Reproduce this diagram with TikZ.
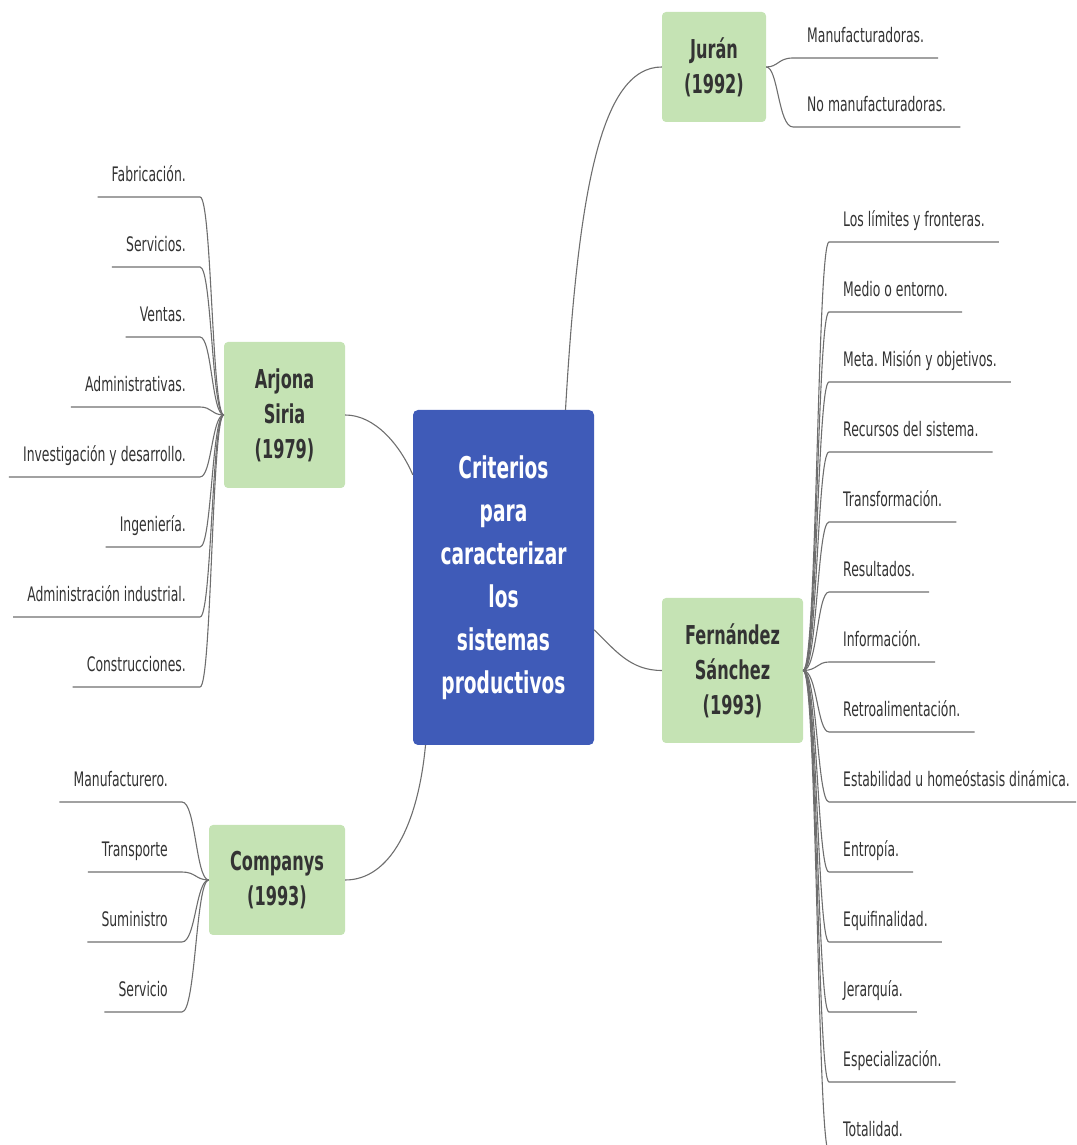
\documentclass[tikz,border=0pt]{standalone}
\usepackage{fontspec}
\setmainfont{DejaVu Sans}[FakeStretch=0.62]
\usetikzlibrary{calc}
\definecolor{azul}{HTML}{3F5BB8}
\definecolor{verde}{HTML}{C5E3B4}
\definecolor{linea}{HTML}{6E6E6E}
\definecolor{texto}{HTML}{333333}
\frenchspacing

\begin{document}
\begin{tikzpicture}[x=1pt,y=1pt,
    caja/.style={fill=verde, rounded corners=4pt, align=center, text=texto, font=\fontsize{26}{35}\selectfont\bfseries},
    hoja/.style={inner xsep=14pt, inner ysep=0pt, text height=15pt, text depth=15pt, text=texto, font=\fontsize{20}{24}\selectfont},
    rama/.style={draw=linea, line width=1.1pt}]
  \useasboundingbox (0,0) rectangle (1076,1145);
  \clip (0,0) rectangle (1076,1145);

  % nodo central y autores
  \node[fill=azul, rounded corners=5pt, minimum width=181pt, minimum height=335pt, text=white, align=center,
        font=\fontsize{30}{43}\selectfont\bfseries] (centro) at (503.5,567.5)
        {Criterios\\para\\caracterizar\\los\\sistemas\\productivos};
  \node[caja, minimum width=104pt, minimum height=110pt] (juran) at (714,1078) {Jurán\\(1992)};
  \node[caja, minimum width=121pt, minimum height=146pt] (arjona) at (284.5,730) {Arjona\\Siria\\(1979)};
  \node[caja, minimum width=141pt, minimum height=145pt] (fern) at (732.5,474.5) {Fernández\\Sánchez\\(1993)};
  \node[caja, minimum width=136pt, minimum height=110pt] (comp) at (277,265) {Companys\\(1993)};

  \draw[rama] ([xshift=62pt]centro.north) .. controls (578,950) and (600,1078) .. (juran.west);
  \draw[rama] ([yshift=-65pt]centro.north west) .. controls (400,700) and (375,730) .. (arjona.east);
  \draw[rama] ([yshift=-220pt]centro.north east) .. controls (615,495) and (630,474.5) .. (fern.west);
  \draw[rama] ([xshift=-78pt]centro.south) .. controls (418,320) and (390,265) .. (comp.east);

  % Juran
  \foreach \txt [count=\i from 0] in {Manufacturadoras.,No manufacturadoras.}{
    \node[hoja, anchor=south west] (j\i) at (793,1087-69*\i) {\txt};
    \draw[rama] (juran.east) .. controls ($(juran.east)+(12,0)$) and ($(juran.east |- j\i.south west)+(12,0)$) .. (j\i.south west) -- (j\i.south east);
  }

  % Arjona Siria
  \foreach \txt [count=\i from 0] in {Fabricación.,Servicios.,Ventas.,Administrativas.,Investigación y desarrollo.,Ingeniería.,Administración industrial.,Construcciones.}{
    \node[hoja, anchor=south east] (a\i) at (200,948-70*\i) {\txt};
    \draw[rama] (arjona.west) .. controls ($(arjona.west)+(-12,0)$) and ($(arjona.west |- a\i.south east)+(-12,0)$) .. (a\i.south east) -- (a\i.south west);
  }

  % Companys
  \foreach \txt [count=\i from 0] in {Manufacturero.,Transporte,Suministro,Servicio}{
    \node[hoja, anchor=south east] (c\i) at (182,343-70*\i) {\txt};
    \draw[rama] (comp.west) .. controls ($(comp.west)+(-13,0)$) and ($(comp.west |- c\i.south east)+(-13,0)$) .. (c\i.south east) -- (c\i.south west);
  }

  % Fernandez Sanchez
  \foreach \txt [count=\i from 0] in {Los límites y fronteras.,Medio o entorno.,Meta. Misión y objetivos.,Recursos del sistema.,Transformación.,Resultados.,Información.,Retroalimentación.,Estabilidad u homeóstasis dinámica.,Entropía.,Equifinalidad.,Jerarquía.,Especialización.,Totalidad.}{
    \node[hoja, anchor=south west] (f\i) at (829,903-70*\i) {\txt};
    \draw[rama] (fern.east) .. controls ($(fern.east)+(14,0)$) and ($(fern.east |- f\i.south west)+(14,0)$) .. (f\i.south west) -- (f\i.south east);
  }
\end{tikzpicture}
\end{document}
